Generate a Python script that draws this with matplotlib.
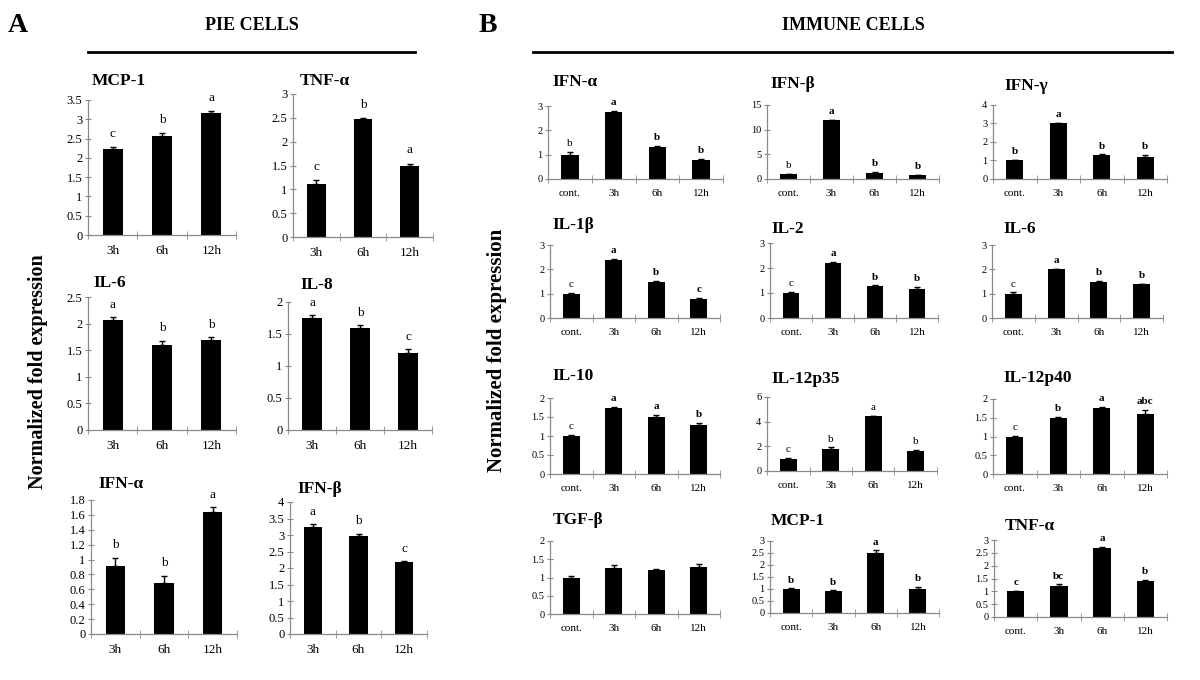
import numpy as np
import matplotlib
matplotlib.use("Agg")
import matplotlib.pyplot as plt

plt.rcParams['font.family'] = ['Liberation Serif', 'DejaVu Serif']

# ---- data: panel A (PIE cells) ----
pie_times = ['3h', '6h', '12h']
pie_genes = ['MCP-1', 'TNF-α', 'IL-6', 'IL-8', 'IFN-α', 'IFN-β']
pie_mean = [[2.23, 2.57, 3.17],
            [1.12, 2.48, 1.50],
            [2.07, 1.59, 1.70],
            [1.75, 1.60, 1.21],
            [0.91, 0.69, 1.64],
            [3.25, 2.96, 2.17]]
pie_err = [[0.06, 0.07, 0.04],
           [0.08, 0.02, 0.04],
           [0.05, 0.09, 0.04],
           [0.04, 0.04, 0.05],
           [0.11, 0.09, 0.06],
           [0.07, 0.07, 0.03]]
pie_sig = [['c', 'b', 'a'], ['c', 'b', 'a'], ['a', 'b', 'b'],
           ['a', 'b', 'c'], ['b', 'b', 'a'], ['a', 'b', 'c']]
pie_ymax = [3.5, 3, 2.5, 2, 1.8, 4]
pie_ystep = [0.5, 0.5, 0.5, 0.5, 0.2, 0.5]

# ---- data: panel B (immune cells) ----
imm_times = ['cont.', '3h', '6h', '12h']
imm_genes = ['IFN-α', 'IFN-β', 'IFN-γ', 'IL-1β', 'IL-2', 'IL-6',
             'IL-10', 'IL-12p35', 'IL-12p40', 'TGF-β', 'MCP-1', 'TNF-α']
imm_mean = [[1.0, 2.75, 1.30, 0.80],
            [1.0, 11.9, 1.30, 0.80],
            [1.0, 3.00, 1.30, 1.20],
            [1.0, 2.40, 1.48, 0.80],
            [1.0, 2.20, 1.28, 1.18],
            [1.0, 2.00, 1.50, 1.38],
            [1.0, 1.75, 1.50, 1.30],
            [1.0, 1.80, 4.45, 1.60],
            [1.0, 1.50, 1.75, 1.60],
            [1.0, 1.25, 1.20, 1.30],
            [1.0, 0.90, 2.50, 1.00],
            [1.0, 1.20, 2.70, 1.40]]
imm_err = [[0.12, 0.05, 0.06, 0.03],
           [0.10, 0.12, 0.10, 0.10],
           [0.04, 0.05, 0.03, 0.10],
           [0.04, 0.03, 0.04, 0.04],
           [0.06, 0.04, 0.03, 0.08],
           [0.06, 0.03, 0.03, 0.03],
           [0.02, 0.02, 0.05, 0.04],
           [0.05, 0.12, 0.05, 0.10],
           [0.02, 0.03, 0.05, 0.10],
           [0.05, 0.08, 0.03, 0.06],
           [0.03, 0.04, 0.12, 0.08],
           [0.03, 0.07, 0.04, 0.06]]
imm_sig = [['b', 'a', 'b', 'b'], ['b', 'a', 'b', 'b'], ['b', 'a', 'b', 'b'],
           ['c', 'a', 'b', 'c'], ['c', 'a', 'b', 'b'], ['c', 'a', 'b', 'b'],
           ['c', 'a', 'a', 'b'], ['c', 'b', 'a', 'b'], ['c', 'b', 'a', 'abc'],
           ['', '', '', ''], ['b', 'b', 'a', 'b'], ['c', 'bc', 'a', 'b']]
imm_ymax = [3, 15, 4, 3, 3, 3, 2, 6, 2, 2, 3, 3]
imm_ystep = [1, 5, 1, 1, 1, 1, 0.5, 2, 0.5, 0.5, 0.5, 0.5]

# ---- layout (pixels: left, top, right, bottom) ----
W, H = 1200, 680
pie_boxes = [(88, 100, 236, 235), (293, 94, 433, 237),
             (88, 297, 236, 430), (288, 302, 432, 430),
             (91, 500, 237, 634), (290, 502, 427, 634)]
pie_titles = [(92, 81), (300, 81), (93, 283), (300, 285), (98, 484), (297, 489)]
imm_boxes = [(548, 106, 723, 179), (767, 105, 939, 179), (993, 105, 1167, 179),
             (550, 245, 720, 318), (770, 243, 938, 318), (992, 245, 1163, 318),
             (550, 398, 720, 474), (767, 397, 937, 471), (993, 399, 1167, 474),
             (550, 541, 720, 614), (770, 541, 939, 613), (994, 540, 1167, 617)]
imm_titles = [(552, 82), (770, 84), (1004, 86), (552, 225), (771, 229), (1003, 229),
              (552, 376), (771, 379), (1003, 378), (553, 520), (771, 521), (1005, 526)]
# bold significance letters (the cont. letter is mostly plain)
imm_bold = [[0, 1, 1, 1], [0, 1, 1, 1], [1, 1, 1, 1], [0, 1, 1, 1],
            [0, 1, 1, 1], [0, 1, 1, 1], [0, 1, 1, 1], [0, 0, 0, 0],
            [0, 1, 1, 1], [0, 0, 0, 0], [1, 1, 1, 1], [1, 1, 1, 1]]

fig = plt.figure(figsize=(12, 6.8), dpi=100)


def to_rect(b):
    l, t, r, bt = b
    return [l / W, 1 - bt / H, (r - l) / W, (bt - t) / H]


def bar_panel(box, labels, mean, err, sig, ymax, ystep, fs, bold):
    ax = fig.add_axes(to_rect(box))
    n = len(labels)
    x = np.arange(n) + 0.5
    ax.bar(x, mean, width=0.4, color='black', zorder=2)
    ax.errorbar(x, mean, yerr=[np.zeros(n), err], fmt='none', ecolor='black',
                elinewidth=1, capsize=2.5, capthick=1, zorder=3)
    for i in range(n):
        if sig[i]:
            ax.text(x[i], mean[i] + err[i] + ymax * 0.05, sig[i], ha='center',
                    va='bottom', fontsize=fs + 0.5,
                    fontweight='bold' if bold[i] else 'normal')
    ax.set_xlim(0, n)
    ax.set_ylim(0, ymax)
    ax.set_yticks(np.round(np.arange(0, ymax + ystep / 2, ystep), 2))
    ax.set_yticklabels(['%g' % v for v in ax.get_yticks()])
    ax.set_xticks(x)
    ax.set_xticklabels(labels)
    ax.set_xticks(np.arange(n + 1), minor=True)
    for s in ['top', 'right']:
        ax.spines[s].set_visible(False)
    for s in ['left', 'bottom']:
        ax.spines[s].set_color('#8a8a8a')
        ax.spines[s].set_linewidth(0.9)
    ax.tick_params(axis='y', direction='inout', length=4, color='#8a8a8a',
                   labelsize=fs, pad=2)
    ax.tick_params(axis='x', which='major', length=0, labelsize=fs + 0.5, pad=7)
    ax.tick_params(axis='x', which='minor', direction='inout', length=6,
                   color='#8a8a8a')
    return ax


for k in range(6):
    bar_panel(pie_boxes[k], pie_times, pie_mean[k], pie_err[k], pie_sig[k],
              pie_ymax[k], pie_ystep[k], 9, [0, 0, 0])
    fig.text(pie_titles[k][0] / W, 1 - pie_titles[k][1] / H, pie_genes[k],
             ha='left', va='center', fontsize=12.5, fontweight='bold')

for k in range(12):
    bar_panel(imm_boxes[k], imm_times, imm_mean[k], imm_err[k], imm_sig[k],
              imm_ymax[k], imm_ystep[k], 7.5, imm_bold[k])
    fig.text(imm_titles[k][0] / W, 1 - imm_titles[k][1] / H, imm_genes[k],
             ha='left', va='center', fontsize=12.5, fontweight='bold')

# headings, rules and shared y labels
fig.text(18 / W, 1 - 25 / H, 'A', ha='center', va='center', fontsize=20, fontweight='bold')
fig.text(488 / W, 1 - 25 / H, 'B', ha='center', va='center', fontsize=20, fontweight='bold')
fig.text(252 / W, 1 - 25 / H, 'PIE CELLS', ha='center', va='center', fontsize=13, fontweight='bold')
fig.text(853 / W, 1 - 25 / H, 'IMMUNE CELLS', ha='center', va='center', fontsize=13, fontweight='bold')
fig.add_artist(plt.Line2D([88 / W, 415 / W], [1 - 52 / H, 1 - 52 / H], color='black', lw=2))
fig.add_artist(plt.Line2D([533 / W, 1172 / W], [1 - 52 / H, 1 - 52 / H], color='black', lw=2))
fig.text(38 / W, 1 - 372 / H, 'Normalized fold expression', rotation=90,
         ha='center', va='center', fontsize=14.5, fontweight='bold')
fig.text(497 / W, 1 - 350 / H, 'Normalized fold expression', rotation=90,
         ha='center', va='center', fontsize=15, fontweight='bold')

fig.savefig('out.png', dpi=100, facecolor='white')
